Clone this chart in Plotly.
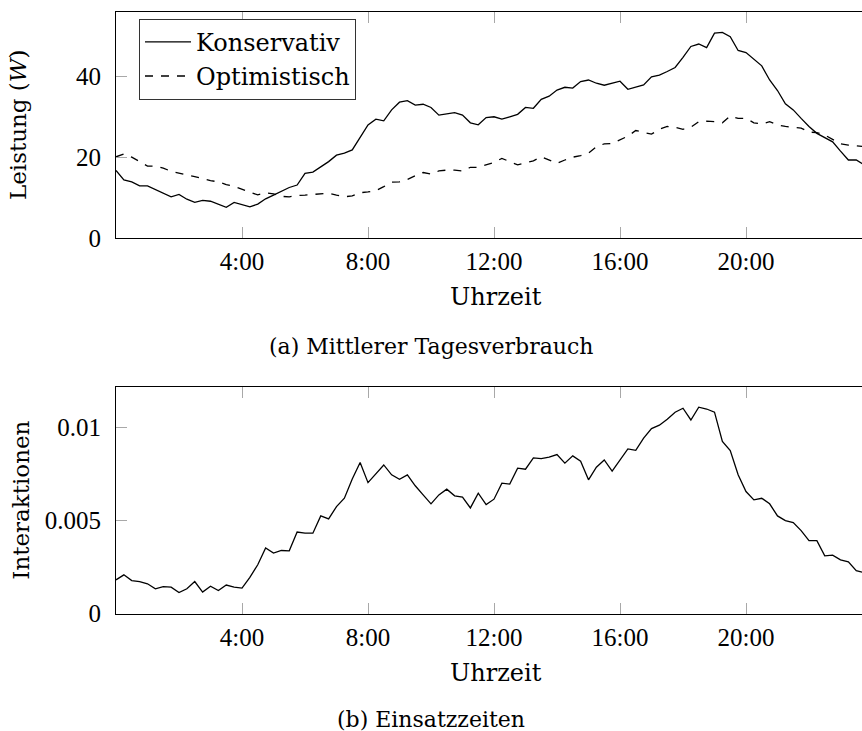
import plotly.graph_objects as go

# 15-minute sampling grid over one day (hours)
stunden = [k / 4 for k in range(96)]

# (a) mean daily consumption in W
konservativ = [
    16.7, 14.4, 13.9, 12.9, 12.9, 12.0, 11.2, 10.2, 10.8, 9.6, 8.8, 9.3, 9.1, 8.4, 7.6, 8.8,
    8.2, 7.7, 8.4, 9.7, 10.6, 11.5, 12.5, 13.1, 16.0, 16.3, 17.5, 18.9, 20.5, 21.0, 21.8, 24.9,
    28.0, 29.4, 29.0, 31.7, 33.6, 34.0, 32.9, 33.1, 32.3, 30.4, 30.7, 31.0, 30.4, 28.5, 28.0, 29.8,
    30.0, 29.4, 30.0, 30.6, 32.3, 32.1, 34.3, 35.1, 36.6, 37.3, 37.1, 38.7, 39.1, 38.3, 37.8, 38.3,
    38.8, 36.8, 37.3, 37.9, 39.9, 40.3, 41.2, 42.2, 44.7, 47.4, 48.0, 47.1, 50.7, 50.9, 49.8, 46.4,
    45.9, 44.2, 42.6, 39.1, 36.5, 33.2, 31.7, 29.6, 27.6, 25.9, 24.9, 23.8, 21.5, 19.3, 19.3, 18.1,
]
optimistisch = [
    20.1, 20.8, 20.0, 19.0, 17.8, 17.8, 17.3, 16.5, 16.0, 15.6, 15.2, 14.7, 14.2, 13.9, 13.2, 12.8,
    12.0, 11.3, 10.7, 11.2, 10.9, 10.3, 10.2, 10.5, 10.6, 10.8, 10.9, 11.1, 10.6, 10.2, 10.4, 11.2,
    11.4, 11.7, 12.7, 13.8, 13.9, 14.5, 15.4, 16.2, 15.8, 16.6, 16.8, 16.8, 16.6, 17.5, 17.5, 18.1,
    18.7, 19.7, 18.9, 18.1, 18.6, 19.1, 20.1, 19.3, 18.5, 19.3, 20.0, 20.4, 21.0, 22.6, 23.3, 23.4,
    24.3, 25.2, 26.6, 26.1, 25.7, 26.9, 27.6, 27.4, 26.9, 27.4, 28.8, 28.9, 28.8, 28.5, 30.2, 29.6,
    29.6, 28.5, 28.2, 28.8, 28.0, 27.6, 27.4, 27.2, 26.2, 26.1, 25.5, 24.3, 23.3, 23.0, 22.8, 22.6,
]

# (b) interactions per time slot
interaktionen = [
    0.00181, 0.00208, 0.00177, 0.00172, 0.00160, 0.00133, 0.00145, 0.00142,
    0.00113, 0.00133, 0.00172, 0.00115, 0.00147, 0.00124, 0.00153, 0.00142,
    0.00137, 0.00194, 0.00262, 0.00352, 0.00325, 0.00339, 0.00337, 0.00438,
    0.00432, 0.00432, 0.00525, 0.00509, 0.00575, 0.00620, 0.00724, 0.00812,
    0.00704, 0.00751, 0.00799, 0.00746, 0.00722, 0.00746, 0.00687, 0.00638,
    0.00590, 0.00638, 0.00669, 0.00633, 0.00626, 0.00568, 0.00647, 0.00586,
    0.00615, 0.00701, 0.00696, 0.00782, 0.00776, 0.00837, 0.00833, 0.00841,
    0.00855, 0.00809, 0.00848, 0.00819, 0.00719, 0.00787, 0.00826, 0.00766,
    0.00823, 0.00885, 0.00878, 0.00943, 0.00995, 0.01013, 0.01045, 0.01083,
    0.01104, 0.01041, 0.01110, 0.01100, 0.01083, 0.00925, 0.00876, 0.00746,
    0.00656, 0.00611, 0.00620, 0.00590, 0.00525, 0.00500, 0.00489, 0.00446,
    0.00392, 0.00392, 0.00310, 0.00314, 0.00289, 0.00278, 0.00230, 0.00220,
]

x_ticks = [4, 8, 12, 16, 20]
x_labels = ["4:00", "8:00", "12:00", "16:00", "20:00"]
y1_ticks = [0, 20, 40]
y1_labels = ["0", "20", "40"]
y2_ticks = [0, 0.005, 0.01]
y2_labels = ["0", "0.005", "0.01"]

NUM_FONT = "Liberation Serif"     # tick numbers
TEXT_FONT = "DejaVu Serif"        # titles, legend, captions
W, H = 862, 731
ML, MR = 116, 0
PX_PER_HOUR = 31.5
X_END = (W - ML - MR) / PX_PER_HOUR   # the 24:00 edge lies just past the page


def ydom(top_px, bottom_px):
    return [1 - bottom_px / H, 1 - top_px / H]


def px_x(px):
    return (px - ML) / (W - ML - MR)


def px_y(px):
    return 1 - px / H


axis_style = dict(
    showline=True, linecolor="black", linewidth=1,
    ticks="inside", ticklen=11, tickwidth=1, tickcolor="#a8a8a8",
    showgrid=False, zeroline=False, automargin=False,
    tickfont=dict(family=NUM_FONT, size=25, color="black"),
)

fig = go.Figure()
fig.add_trace(go.Scatter(
    x=stunden, y=konservativ, name="Konservativ", mode="lines",
    line=dict(color="black", width=1.3), xaxis="x", yaxis="y",
))
fig.add_trace(go.Scatter(
    x=stunden, y=optimistisch, name="Optimistisch", mode="lines",
    line=dict(color="black", width=1.3, dash="8px,8px"), xaxis="x", yaxis="y",
))
fig.add_trace(go.Scatter(
    x=stunden, y=interaktionen, name="Interaktionen", mode="lines",
    line=dict(color="black", width=1.3), xaxis="x2", yaxis="y2", showlegend=False,
))

ytitle_font = dict(family=TEXT_FONT, size=23, color="black")
xtitle_font = dict(family=TEXT_FONT, size=24, color="black")
caption_font = dict(family=TEXT_FONT, size=22, color="black")

fig.update_layout(
    template="none",
    width=W, height=H,
    margin=dict(l=ML, r=MR, t=0, b=0, autoexpand=False),
    paper_bgcolor="white", plot_bgcolor="white",
    font=dict(family=TEXT_FONT, color="black"),
    xaxis=dict(
        axis_style, mirror="ticks", domain=[0, 1], anchor="y", range=[0, X_END],
        tickvals=x_ticks, ticktext=x_labels, ticklabelstandoff=1,
    ),
    yaxis=dict(
        axis_style, mirror=False, domain=ydom(11.7, 238), anchor="x", range=[0, 56],
        tickvals=y1_ticks, ticktext=y1_labels, ticklabelstandoff=9,
        title=dict(text="Leistung (<i>W</i>)", font=ytitle_font, standoff=42),
    ),
    xaxis2=dict(
        axis_style, mirror="ticks", domain=[0, 1], anchor="y2", range=[0, X_END],
        tickvals=x_ticks, ticktext=x_labels, ticklabelstandoff=1,
    ),
    yaxis2=dict(
        axis_style, mirror=False, domain=ydom(386.7, 613.5), anchor="x2", range=[0, 0.0122],
        tickvals=y2_ticks, ticktext=y2_labels, ticklabelstandoff=9,
        title=dict(text="Interaktionen", font=ytitle_font, standoff=8),
    ),
    legend=dict(
        x=px_x(139), y=px_y(18.7), xanchor="left", yanchor="top",
        bgcolor="white", bordercolor="#333333", borderwidth=1,
        font=dict(family=TEXT_FONT, size=24), itemwidth=46, tracegroupgap=0,
    ),
    annotations=[
        dict(text="Uhrzeit", xref="paper", yref="paper", x=px_x(496), y=px_y(297),
             showarrow=False, xanchor="center", yanchor="middle", font=xtitle_font),
        dict(text="(a) Mittlerer Tagesverbrauch", xref="paper", yref="paper",
             x=px_x(431), y=px_y(346), showarrow=False,
             xanchor="center", yanchor="middle", font=caption_font),
        dict(text="Uhrzeit", xref="paper", yref="paper", x=px_x(496), y=px_y(673),
             showarrow=False, xanchor="center", yanchor="middle", font=xtitle_font),
        dict(text="(b) Einsatzzeiten", xref="paper", yref="paper",
             x=px_x(431), y=px_y(719), showarrow=False,
             xanchor="center", yanchor="middle", font=caption_font),
    ],
)

fig.write_html("out.html")
